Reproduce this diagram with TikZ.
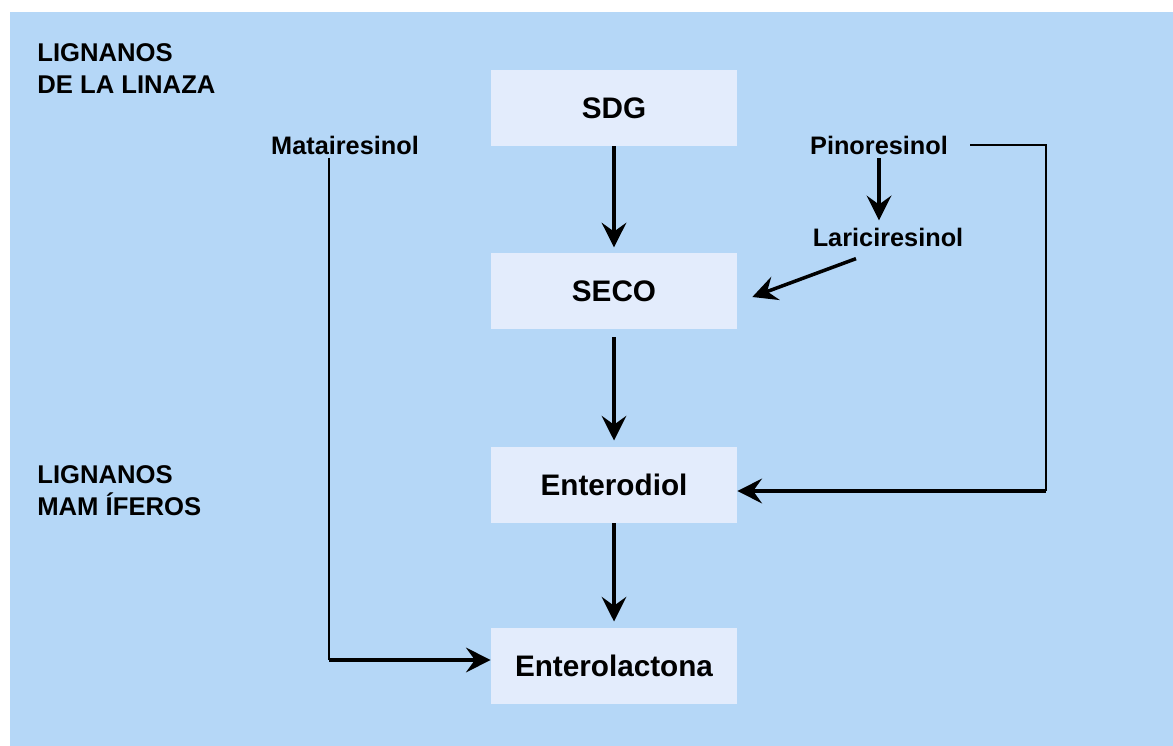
\documentclass[tikz,border=0pt]{standalone}
\usepackage{fontspec}
\setmainfont{Liberation Sans}
\usetikzlibrary{arrows.meta,positioning,calc}
\definecolor{bgblue}{RGB}{181,215,247}
\definecolor{boxblue}{RGB}{227,236,252}

\begin{document}
\begin{tikzpicture}[x=0.02cm, y=-0.02cm,
    box/.style={fill=boxblue, minimum width=4.92cm, minimum height=1.52cm, inner sep=0pt,
        font=\fontsize{16.9}{20}\selectfont\bfseries},
    lbl/.style={inner sep=0pt, font=\fontsize{14.4}{18}\selectfont\bfseries},
    heading/.style={inner sep=0pt, align=left, anchor=north west,
        font=\fontsize{14.6}{18.5}\selectfont\bfseries},
    arrow/.style={-{Stealth[length=14pt, width=14pt, inset=5pt]}, line width=2pt},
    thinline/.style={line width=0.7pt}]
    % background
    \useasboundingbox (0,0) rectangle (1173,746);
    \fill[bgblue] (10,12) rectangle (1173,746);
    % headings
    \node[heading] (titlelinaza) at (37,43) {LIGNANOS\\DE LA LINAZA};
    \node[heading] (titlemamif) at (37,465) {LIGNANOS\\MAM ÍFEROS};
    % boxes
    \node[box] (sdg) at (614,108) {SDG};
    \node[box] (seco) at (614,291) {SECO};
    \node[box] (enterodiol) at (614,485) {Enterodiol};
    \node[box] (enterolactona) at (614,666) {Enterolactona};
    % plant lignans
    \node[lbl] (matai) at (345,145) {Matairesinol};
    \node[lbl] (pino) at (879,145) {Pinoresinol};
    \node[lbl] (lari) at (888,237) {Lariciresinol};
    % main chain
    \draw[arrow, shorten >=3pt] (sdg) -- (seco);
    \draw[arrow, shorten <=4.5pt, shorten >=3.5pt] (seco) -- (enterodiol);
    \draw[arrow, shorten >=3.5pt] (enterodiol) -- (enterolactona);
    % pinoresinol branch
    \draw[arrow, shorten <=2pt, shorten >=4pt] (pino.south) -- (pino.south |- lari.north);
    \draw[arrow] ($(lari.south)+(-32,12)$) -- ($(seco.east)+(15,6)$);
    \coordinate (pinocorner) at (1046,145);
    \coordinate (pinobend) at (1046,491);
    \draw[thinline] ($(pino.east)+(22,0)$) -- (pinocorner) -- (pinobend);
    \draw[arrow] (pinobend) -- (pinobend -| enterodiol.east);
    % matairesinol branch
    \coordinate (mataibend) at (329,660);
    \draw[thinline] ($(matai.south)+(-16,3)$) -- (mataibend);
    \draw[arrow] (mataibend) -- (mataibend -| enterolactona.west);
\end{tikzpicture}
\end{document}
